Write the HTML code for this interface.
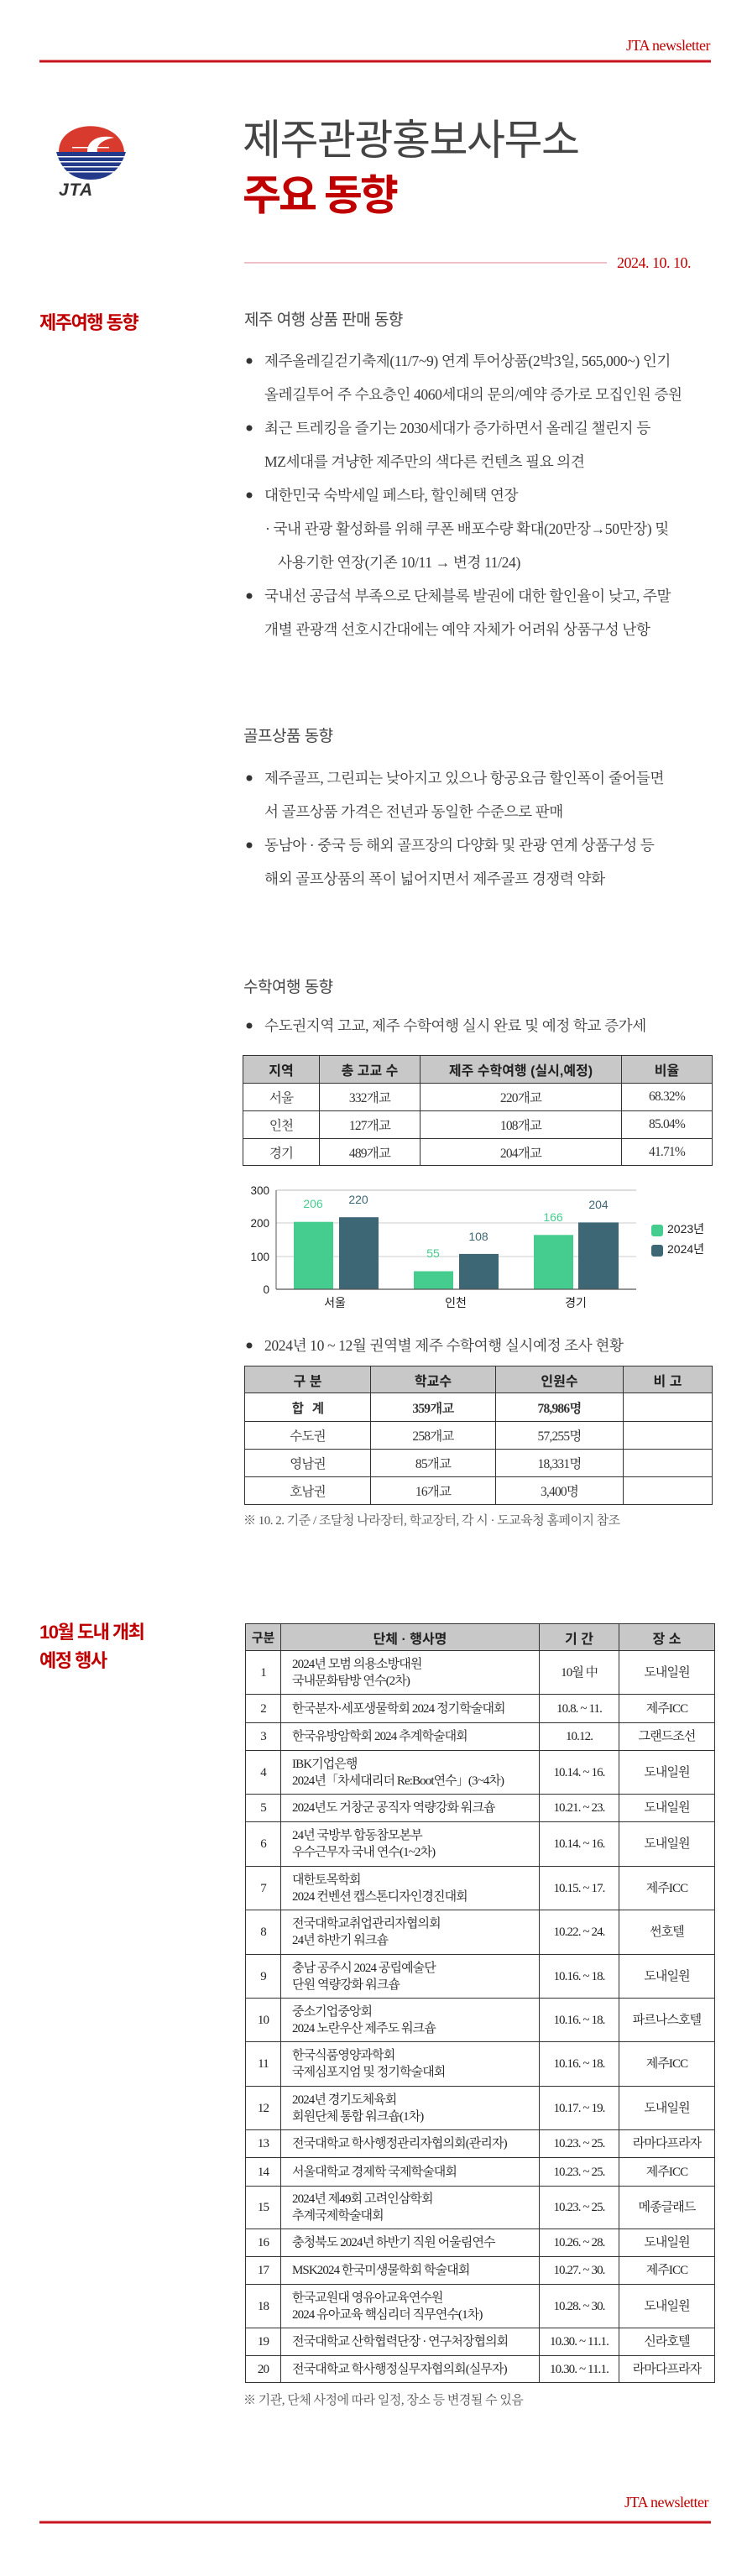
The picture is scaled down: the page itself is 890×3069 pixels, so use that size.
<!DOCTYPE html>
<html><head><meta charset="utf-8">
<style>
*{margin:0;padding:0;box-sizing:border-box}
body{width:890px;height:3069px;position:relative;background:#fff;overflow:hidden;
font-family:"Liberation Serif","Noto Serif CJK KR","Noto Serif CJK SC",serif;color:#333}
.a{position:absolute;white-space:nowrap}
.sans{font-family:"Liberation Sans","Noto Sans CJK KR",sans-serif}
.serif{font-family:"Liberation Serif","Noto Serif CJK KR","Noto Serif CJK SC",serif}
.red{color:#c00000}
.h2{font-family:"Liberation Sans","Noto Sans CJK KR",sans-serif;font-size:19px;color:#444;letter-spacing:-0.5px;line-height:24px}
.sec{font-family:"Liberation Sans","Noto Sans CJK KR",sans-serif;font-size:22px;font-weight:bold;color:#c00000;letter-spacing:-1.5px;line-height:28px}
.bl{font-size:17.6px;line-height:40px;color:#3a3a3a;letter-spacing:-0.4px}
table{position:absolute;border-collapse:collapse;table-layout:fixed}
td,th{border:1.5px solid #333;text-align:center;vertical-align:middle;padding:0;overflow:hidden;white-space:nowrap}
th{background:#c8c8c8;font-family:"Liberation Sans","Noto Sans CJK KR",sans-serif;font-weight:bold;font-size:16px;color:#222}
.t1 td{font-size:15.5px;letter-spacing:-0.8px}
.ev td{font-size:15px;letter-spacing:-0.9px;line-height:20px;color:#222}
.ev td.l{text-align:left;padding-left:13px}
</style></head><body>

<svg class="a" style="left:0;top:0" width="890" height="3069" viewBox="0 0 890 3069">
  <rect x="47" y="71.5" width="800" height="3" fill="#c8141e"/>
  <g>
    <path d="M70,181 C70,140 145,140 148,181 Z" fill="#d83a2e"/>
    <path d="M104,181 C104,166 120,160 136,164 C124,166 114,172 116,181 Z" fill="#fff"/>
    <path d="M67,181 L150,181 Q140,214 108,214 Q76,214 67,181 Z" fill="#233a8a"/>
    <rect x="86" y="175" width="44" height="1.5" fill="#fff"/>
    <rect x="68" y="186" width="82" height="1.5" fill="#fff"/>
    <rect x="70" y="192" width="78" height="1.5" fill="#fff"/>
    <rect x="74" y="198" width="70" height="1.5" fill="#fff"/>
    <rect x="80" y="204" width="58" height="1.5" fill="#fff"/>
  </g>
  <rect x="291" y="312" width="432" height="2" fill="#f0c0c8"/>
  <g fill="#333">
    <circle cx="297" cy="430" r="3.5"/><circle cx="297" cy="510" r="3.5"/>
    <circle cx="297" cy="590" r="3.5"/><circle cx="297" cy="710" r="3.5"/>
    <circle cx="297" cy="927" r="3.5"/><circle cx="297" cy="1007" r="3.5"/>
    <circle cx="297" cy="1222" r="3.5"/><circle cx="297" cy="1603" r="3.5"/>
  </g>
  <g>
    <line x1="329" y1="1418" x2="758" y2="1418" stroke="#bbb" stroke-width="1"/>
    <line x1="329" y1="1457" x2="758" y2="1457" stroke="#ccc" stroke-width="1"/>
    <line x1="329" y1="1497" x2="758" y2="1497" stroke="#ccc" stroke-width="1"/>
    <line x1="329" y1="1418" x2="329" y2="1536" stroke="#555" stroke-width="1"/>
    <rect x="350" y="1455.7" width="47" height="80.3" fill="#45cc8f"/>
    <rect x="404" y="1450.2" width="47" height="85.8" fill="#3d6775"/>
    <rect x="493" y="1514.5" width="47" height="21.5" fill="#45cc8f"/>
    <rect x="547" y="1493.9" width="47" height="42.1" fill="#3d6775"/>
    <rect x="636" y="1471.3" width="47" height="64.7" fill="#45cc8f"/>
    <rect x="689" y="1456.4" width="48" height="79.6" fill="#3d6775"/>
    <line x1="329" y1="1536" x2="758" y2="1536" stroke="#555" stroke-width="1.2"/>
    <rect x="776" y="1459" width="14" height="14" rx="3" fill="#45cc8f"/>
    <rect x="776" y="1483" width="14" height="14" rx="3" fill="#3d6775"/>
  </g>
  <g font-family="Liberation Sans, Noto Sans CJK KR, sans-serif" font-size="14" text-anchor="middle">
    <text x="373" y="1439" fill="#45cc8f">206</text>
    <text x="427" y="1434" fill="#3d6775">220</text>
    <text x="516" y="1498" fill="#45cc8f">55</text>
    <text x="570" y="1478" fill="#3d6775">108</text>
    <text x="659" y="1455" fill="#45cc8f">166</text>
    <text x="713" y="1440" fill="#3d6775">204</text>
  </g>
  <g font-family="Liberation Sans, Noto Sans CJK KR, sans-serif" font-size="13.5" fill="#222" text-anchor="end">
    <text x="321" y="1423">300</text>
    <text x="321" y="1462">200</text>
    <text x="321" y="1502">100</text>
    <text x="321" y="1541">0</text>
  </g>
  <g font-family="Liberation Sans, Noto Sans CJK KR, sans-serif" font-size="14" fill="#222" text-anchor="middle">
    <text x="399" y="1557">서울</text>
    <text x="543" y="1557">인천</text>
    <text x="686" y="1557">경기</text>
  </g>
  <g font-family="Liberation Sans, Noto Sans CJK KR, sans-serif" font-size="14" fill="#222">
    <text x="795" y="1469">2023년</text>
    <text x="795" y="1493">2024년</text>
  </g>
  <rect x="47" y="3003.5" width="800" height="3" fill="#c8141e"/>
</svg>

<div class="a serif red" style="right:44px;top:44px;font-size:18px;line-height:20px;letter-spacing:-0.5px">JTA newsletter</div>
<div class="a sans" style="left:70px;top:216px;font-size:21px;font-weight:bold;font-style:italic;color:#333;letter-spacing:1px;line-height:22px">JTA</div>

<div class="a sans" style="left:289px;top:136px;font-size:50px;line-height:62px;color:#444;letter-spacing:-1.5px">제주관광홍보사무소</div>
<div class="a sans red" style="left:289px;top:202px;font-size:50px;line-height:62px;font-weight:bold;letter-spacing:-3px">주요 동향</div>
<div class="a serif red" style="left:735px;top:303px;font-size:18px;line-height:20px;letter-spacing:-0.5px">2024. 10. 10.</div>

<div class="a sec" style="left:47px;top:371px">제주여행 동향</div>
<div class="a h2" style="left:291px;top:370px">제주 여행 상품 판매 동향</div>
<div class="a bl" style="left:315px;top:410px">제주올레길걷기축제(11/7~9) 연계 투어상품(2박3일, 565,000~) 인기</div>
<div class="a bl" style="left:315px;top:450px">올레길투어 주 수요층인 4060세대의 문의/예약 증가로 모집인원 증원</div>
<div class="a bl" style="left:315px;top:490px">최근 트레킹을 즐기는 2030세대가 증가하면서 올레길 챌린지 등</div>
<div class="a bl" style="left:315px;top:530px">MZ세대를 겨냥한 제주만의 색다른 컨텐츠 필요 의견</div>
<div class="a bl" style="left:315px;top:570px">대한민국 숙박세일 페스타, 할인혜택 연장</div>
<div class="a bl" style="left:316px;top:610px">· 국내 관광 활성화를 위해 쿠폰 배포수량 확대(20만장→50만장) 및</div>
<div class="a bl" style="left:331px;top:650px">사용기한 연장(기존 10/11 → 변경 11/24)</div>
<div class="a bl" style="left:315px;top:690px">국내선 공급석 부족으로 단체블록 발권에 대한 할인율이 낮고, 주말</div>
<div class="a bl" style="left:315px;top:730px">개별 관광객 선호시간대에는 예약 자체가 어려워 상품구성 난항</div>

<div class="a h2" style="left:290px;top:866px">골프상품 동향</div>
<div class="a bl" style="left:315px;top:907px">제주골프, 그린피는 낮아지고 있으나 항공요금 할인폭이 줄어들면</div>
<div class="a bl" style="left:315px;top:947px">서 골프상품 가격은 전년과 동일한 수준으로 판매</div>
<div class="a bl" style="left:315px;top:987px">동남아 · 중국 등 해외 골프장의 다양화 및 관광 연계 상품구성 등</div>
<div class="a bl" style="left:315px;top:1027px">해외 골프상품의 폭이 넓어지면서 제주골프 경쟁력 약화</div>

<div class="a h2" style="left:290px;top:1165px">수학여행 동향</div>
<div class="a bl" style="left:315px;top:1202px">수도권지역 고교, 제주 수학여행 실시 완료 및 예정 학교 증가세</div>

<table class="t1" style="left:289px;top:1257px;width:559px">
<colgroup><col style="width:91px"><col style="width:120px"><col style="width:240px"><col style="width:108px"></colgroup>
<tr style="height:33px"><th>지역</th><th>총 고교 수</th><th>제주 수학여행 (실시,예정)</th><th>비율</th></tr>
<tr style="height:33px"><td>서울</td><td>332개교</td><td>220개교</td><td>68.32%</td></tr>
<tr style="height:33px"><td>인천</td><td>127개교</td><td>108개교</td><td>85.04%</td></tr>
<tr style="height:32px"><td>경기</td><td>489개교</td><td>204개교</td><td>41.71%</td></tr>
</table>

<div class="a bl" style="left:315px;top:1583px">2024년 10 ~ 12월 권역별 제주 수학여행 실시예정 조사 현황</div>

<table class="t1" style="left:291px;top:1627px;width:557px">
<colgroup><col style="width:150px"><col style="width:149px"><col style="width:152px"><col style="width:106px"></colgroup>
<tr style="height:32px"><th>구 분</th><th>학교수</th><th>인원수</th><th>비 고</th></tr>
<tr style="height:34px"><td class="sans" style="font-weight:bold">합&nbsp;&nbsp;&nbsp;계</td><td style="font-weight:bold">359개교</td><td style="font-weight:bold">78,986명</td><td></td></tr>
<tr style="height:33px"><td>수도권</td><td>258개교</td><td>57,255명</td><td></td></tr>
<tr style="height:33px"><td>영남권</td><td>85개교</td><td>18,331명</td><td></td></tr>
<tr style="height:33px"><td>호남권</td><td>16개교</td><td>3,400명</td><td></td></tr>
</table>
<div class="a" style="left:290px;top:1802px;font-size:15px;line-height:20px;color:#555;letter-spacing:-0.5px">※ 10. 2. 기준 / 조달청 나라장터, 학교장터, 각 시 · 도교육청 홈페이지 참조</div>

<div class="a sec" style="left:47px;top:1931px">10월 도내 개최</div>
<div class="a sec" style="left:47px;top:1965px">예정 행사</div>

<table class="ev" style="left:292px;top:1934px;width:559px">
<colgroup><col style="width:42px"><col style="width:308px"><col style="width:95px"><col style="width:114px"></colgroup>
<tr style="height:32px"><th style="font-size:15px">구분</th><th>단체 · 행사명</th><th>기 간</th><th>장 소</th></tr>
<tr style="height:52px"><td>1</td><td class="l">2024년 모범 의용소방대원<br>국내문화탐방 연수(2차)</td><td>10월 中</td><td>도내일원</td></tr>
<tr style="height:34px"><td>2</td><td class="l">한국분자·세포생물학회 2024 정기학술대회</td><td>10.8. ~ 11.</td><td>제주ICC</td></tr>
<tr style="height:33px"><td>3</td><td class="l">한국유방암학회 2024 추계학술대회</td><td>10.12.</td><td>그랜드조선</td></tr>
<tr style="height:52px"><td>4</td><td class="l">IBK기업은행<br>2024년「차세대리더 Re:Boot연수」(3~4차)</td><td>10.14. ~ 16.</td><td>도내일원</td></tr>
<tr style="height:33px"><td>5</td><td class="l">2024년도 거창군 공직자 역량강화 워크숍</td><td>10.21. ~ 23.</td><td>도내일원</td></tr>
<tr style="height:53px"><td>6</td><td class="l">24년 국방부 합동참모본부<br>우수근무자 국내 연수(1~2차)</td><td>10.14. ~ 16.</td><td>도내일원</td></tr>
<tr style="height:52px"><td>7</td><td class="l">대한토목학회<br>2024 컨벤션 캡스톤디자인경진대회</td><td>10.15. ~ 17.</td><td>제주ICC</td></tr>
<tr style="height:53px"><td>8</td><td class="l">전국대학교취업관리자협의회<br>24년 하반기 워크숍</td><td>10.22. ~ 24.</td><td>썬호텔</td></tr>
<tr style="height:52px"><td>9</td><td class="l">충남 공주시 2024 공립예술단<br>단원 역량강화 워크숍</td><td>10.16. ~ 18.</td><td>도내일원</td></tr>
<tr style="height:52px"><td>10</td><td class="l">중소기업중앙회<br>2024 노란우산 제주도 워크숍</td><td>10.16. ~ 18.</td><td>파르나스호텔</td></tr>
<tr style="height:53px"><td>11</td><td class="l">한국식품영양과학회<br>국제심포지엄 및 정기학술대회</td><td>10.16. ~ 18.</td><td>제주ICC</td></tr>
<tr style="height:52px"><td>12</td><td class="l">2024년 경기도체육회<br>회원단체 통합 워크숍(1차)</td><td>10.17. ~ 19.</td><td>도내일원</td></tr>
<tr style="height:33px"><td>13</td><td class="l">전국대학교 학사행정관리자협의회(관리자)</td><td>10.23. ~ 25.</td><td>라마다프라자</td></tr>
<tr style="height:34px"><td>14</td><td class="l">서울대학교 경제학 국제학술대회</td><td>10.23. ~ 25.</td><td>제주ICC</td></tr>
<tr style="height:51px"><td>15</td><td class="l">2024년 제49회 고려인삼학회<br>추계국제학술대회</td><td>10.23. ~ 25.</td><td>메종글래드</td></tr>
<tr style="height:33px"><td>16</td><td class="l">충청북도 2024년 하반기 직원 어울림연수</td><td>10.26. ~ 28.</td><td>도내일원</td></tr>
<tr style="height:33px"><td>17</td><td class="l">MSK2024 한국미생물학회 학술대회</td><td>10.27. ~ 30.</td><td>제주ICC</td></tr>
<tr style="height:52px"><td>18</td><td class="l">한국교원대 영유아교육연수원<br>2024 유아교육 핵심리더 직무연수(1차)</td><td>10.28. ~ 30.</td><td>도내일원</td></tr>
<tr style="height:33px"><td>19</td><td class="l">전국대학교 산학협력단장 · 연구처장협의회</td><td>10.30. ~ 11.1.</td><td>신라호텔</td></tr>
<tr style="height:32px"><td>20</td><td class="l">전국대학교 학사행정실무자협의회(실무자)</td><td>10.30. ~ 11.1.</td><td>라마다프라자</td></tr>
</table>
<div class="a" style="left:290px;top:2850px;font-size:15px;line-height:20px;color:#555;letter-spacing:-0.5px">※ 기관, 단체 사정에 따라 일정, 장소 등 변경될 수 있음</div>

<div class="a serif red" style="right:46px;top:2971px;font-size:18px;line-height:20px;letter-spacing:-0.5px">JTA newsletter</div>
</body></html>
